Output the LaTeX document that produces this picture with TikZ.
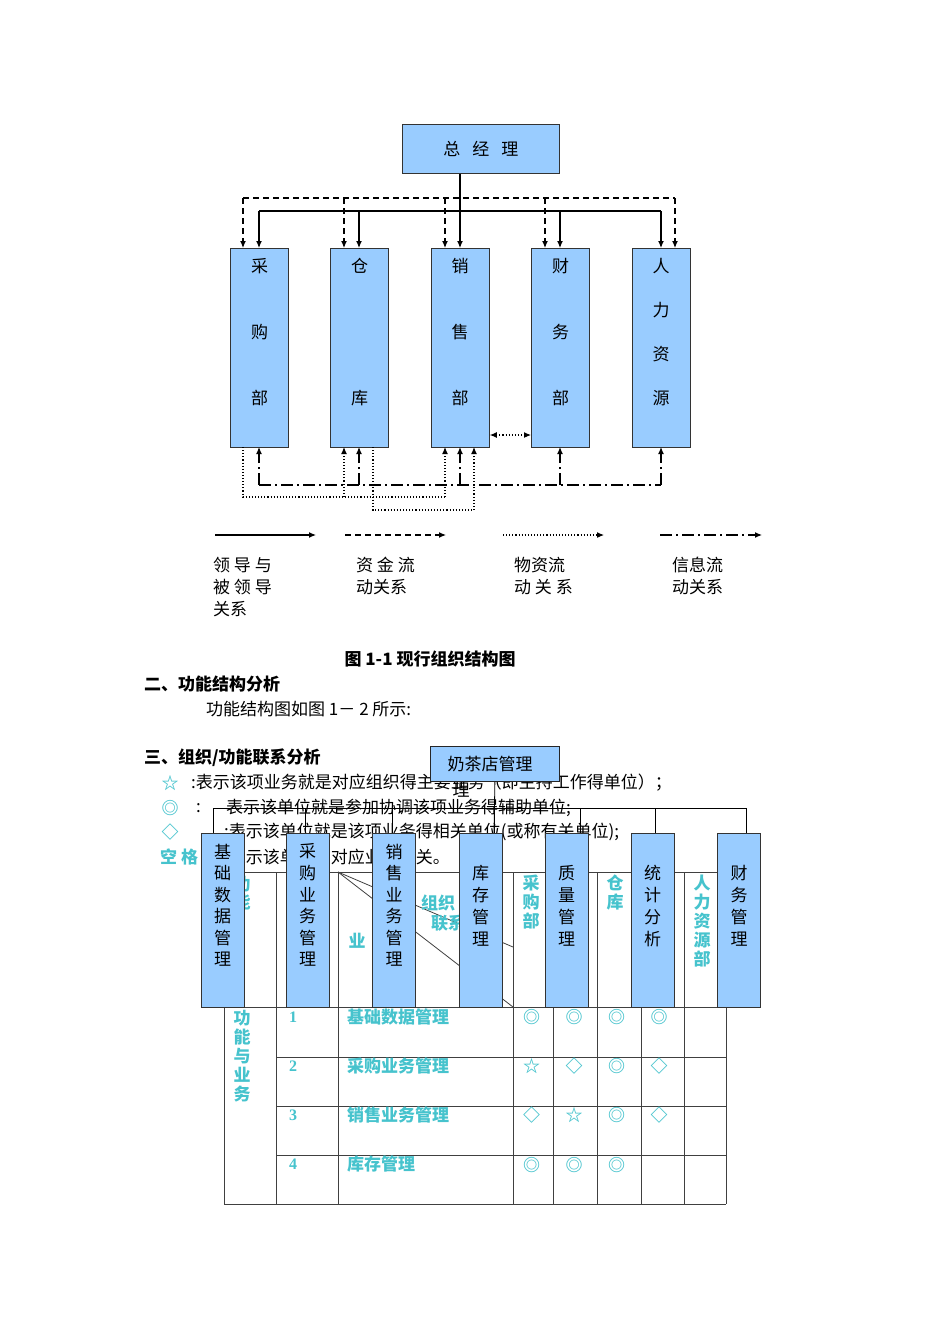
\documentclass[tikz,border=0pt]{standalone}
\usepackage{fontspec}
\setmainfont{Liberation Serif}
\newfontfamily\cjk{Noto Sans CJK SC}
\usetikzlibrary{arrows.meta}
\definecolor{boxblue}{RGB}{153,204,255}
\definecolor{cyantxt}{RGB}{70,195,205}
\tikzset{
 x=1pt,y=-1pt,
 dept/.style={draw=black!80,fill=boxblue,line width=0.8pt,inner sep=0,anchor=north west},
 ch/.style={font=\cjk\fontsize{17}{20}\selectfont,inner sep=0},
 cy/.style={ch,text=cyantxt,font=\cjk\bfseries\fontsize{17}{20}\selectfont},
 tx/.style={ch,anchor=west},
 solidar/.style={line width=1.2pt,-{Latex[length=7pt,width=6pt]}},
 dashar/.style={line width=1.2pt,dash pattern=on 6pt off 4pt,-{Latex[length=7pt,width=6pt]}},
 dotar/.style={line width=1.1pt,dotted,-{Latex[length=7pt,width=6pt]}},
 dotbi/.style={line width=1.1pt,dotted,{Latex[length=7pt,width=6pt]}-{Latex[length=7pt,width=6pt]}},
 dashdot/.style={line width=1.2pt,dash pattern=on 12pt off 4pt on 2pt off 4pt},
 dashdotar/.style={dashdot,-{Latex[length=7pt,width=6pt]}},
 tline/.style={draw=black!75,line width=0.8pt},
}
\begin{document}
\begin{tikzpicture}
\useasboundingbox[fill=white] (0,0) rectangle (950,1344);
% ---------- top chart
\node[dept,minimum width=157pt,minimum height=49pt] (gm) at (402,124) {};
\node[ch] (gmt) at (gm.center) {总\hspace{12pt}经\hspace{12pt}理};
\foreach \n/\x in {cg/230,ck/330,xs/431,cw/531,rl/632}
  \node[dept,minimum width=58pt,minimum height=199pt] (\n) at (\x,248) {};
\foreach \c[count=\i] in {采,购,部} \node[ch] (a\i) at (259.5,200+66*\i) {\c};
\foreach \c[count=\i] in {仓,库} \node[ch] (b\i) at (359.5,134+132*\i) {\c};
\foreach \c[count=\i] in {销,售,部} \node[ch] (c\i) at (460,200+66*\i) {\c};
\foreach \c[count=\i] in {财,务,部} \node[ch] (d\i) at (560.5,200+66*\i) {\c};
\foreach \c[count=\i] in {人,力,资,源} \node[ch] (e\i) at (661,222+44*\i) {\c};
% solid
\coordinate (sj) at (460,211);
\draw[line width=1.2pt] (gm.south -| sj) -- (sj);
\draw[line width=1.2pt] (259,211) -- (661,211);
\foreach \n/\x in {cg/259,ck/359,xs/460,cw/560,rl/661}
  \draw[solidar] (\x,211) -- (\x,248);
% dashed
\draw[line width=1.2pt,dash pattern=on 6pt off 4pt] (243,198) -- (675,198);
\foreach \x in {243,344,445,545,675}
  \draw[dashar] (\x,198) -- (\x,248);
% dotted bidirectional
\draw[dotbi] (xs.east|-0,435) -- (cw.west|-0,435);
% dash-dot info
\draw[dashdot] (259,485) -- (661,485);
\foreach \x in {259,359,460,560,661}
  \draw[dashdotar] (\x,485) -- (\x,447);
% dotted material
\draw[line width=1.1pt,dotted] (243,447) -- (243,497) -- (445,497);
\draw[dotar] (445,497) -- (445,447);
\draw[dotar] (344,497) -- (344,447);
\draw[line width=1.1pt,dotted] (373,447) -- (373,510) -- (474,510);
\draw[dotar] (474,510) -- (474,447);
% legend
\coordinate (l1a) at (215,535); \coordinate (l1b) at (316,535);
\coordinate (l2a) at (345,535); \coordinate (l2b) at (446,535);
\coordinate (l3a) at (503,535); \coordinate (l3b) at (604,535);
\coordinate (l4a) at (660,535); \coordinate (l4b) at (762,535);
\draw[solidar] (l1a) -- (l1b);
\draw[dashar] (l2a) -- (l2b);
\draw[dotar] (l3a) -- (l3b);
\draw[dashdotar] (l4a) -- (l4b);
\node[tx] (lg1) at (213,565) {领 导 与};
\node[tx] (lg1b) at (213,587) {被 领 导};
\node[tx] (lg1c) at (213,609) {关系};
\node[tx] (lg2) at (356,565) {资 金 流};
\node[tx] (lg2b) at (356,587) {动关系};
\node[tx] (lg3) at (514,565) {物资流};
\node[tx] (lg3b) at (514,587) {动 关 系};
\node[tx] (lg4) at (672,565) {信息流};
\node[tx] (lg4b) at (672,587) {动关系};
% captions
\node[ch] (cap) at (430,659) {\bfseries 图 \textbf{1-1} 现行组织结构图};
\node[tx] (h2) at (144,684) {\bfseries 二、功能结构分析};
\node[tx] (p2) at (206,709) {功能结构图如图 1－ 2 所示:};
\node[tx] (h3) at (144,758) {\bfseries 三、组织/功能联系分析};
\node[cy] (s1) at (170,783) {☆};
\node[tx] (t1) at (191,783) {:表示该项业务就是对应组织得主要业务（即主持工作得单位）；};
\node[cy] (s2) at (170,808) {◎};
\node[tx] (t2a) at (196,808) {:};
\node[tx] (t2) at (226,808) {表示该单位就是参加协调该项业务得辅助单位;};
\node[cy] (s3) at (170,832) {◇};
\node[tx] (t3) at (224,832) {:表示该单位就是该项业务得相关单位(或称有关单位);};
\node[cy,anchor=west] (s4) at (160,857) {空 格};
\node[tx] (t4) at (224,857) {:表示该单位与对应业务无关。};
% ---------- table
\foreach \x in {224,276,338,513,553,597,641,684,726}
  \draw[tline] (\x,872) -- (\x,1204);
\draw[tline] (224,872) -- (726,872);
\foreach \y in {1007,1057,1106,1155,1204}
  \draw[tline] (276,\y) -- (726,\y);
\draw[tline] (224,1204) -- (276,1204);
\draw[tline] (224,1007) -- (276,1007);
\draw[tline] (338,872) -- (513,947);
\draw[tline] (338,872) -- (513,1007);
\foreach \c[count=\i] in {功,能} \node[cy] (f\i) at (242,866+18*\i) {\c};
\node[cy] (hy) at (357,941) {业};
\node[cy] (hz1) at (438,903) {组织};
\node[cy] (hz2) at (448,923) {联系};
\foreach \c[count=\i] in {采,购,部} \node[cy] (p\i) at (531,864+19*\i) {\c};
\foreach \c[count=\i] in {仓,库} \node[cy] (q\i) at (615,864+19*\i) {\c};
\foreach \c[count=\i] in {人,力,资,源,部} \node[cy] (r\i) at (702,864+19*\i) {\c};
\foreach \c[count=\i] in {功,能,与,业,务} \node[cy] (g\i) at (242,999+19*\i) {\c};
\foreach \nm[count=\i] in {基础数据管理,采购业务管理,销售业务管理,库存管理}{
  \node[font=\bfseries\fontsize{16}{18}\selectfont,text=cyantxt,inner sep=0] (num\i) at (293,968+49*\i) {\i};
  \node[cy,anchor=west] (nm\i) at (347,968+49*\i) {\nm};}
\foreach \s[count=\i] in {◎,◎,◎,◎} \node[cy] (r1c\i) at (489+42.5*\i,1017) {\s};
\foreach \s[count=\i] in {☆,◇,◎,◇} \node[cy] (r2c\i) at (489+42.5*\i,1066) {\s};
\foreach \s[count=\i] in {◇,☆,◎,◇} \node[cy] (r3c\i) at (489+42.5*\i,1115) {\s};
\foreach \s[count=\i] in {◎,◎,◎} \node[cy] (r4c\i) at (489+42.5*\i,1165) {\s};
% ---------- function chart
\node[draw=black!85,fill=boxblue,line width=0.8pt,minimum width=129pt,minimum height=35pt,anchor=north west,inner sep=0] (top) at (430,746) {};
\node[ch] (topt) at (490,764) {奶茶店管理};
\node[ch] (topt2) at (461,790) {理};
\draw[line width=0.8pt] (213,808) -- (746,808);
\draw[line width=0.8pt] (top.south) -- (494,833);
\foreach \n/\x/\lx in {fa/201/213,fb/286/305,fc/372/392,fd/459/494,fe/545/580,ff/631/655,fg/717/746}{
  \node[dept,minimum width=43pt,minimum height=174pt] (\n) at (\x,833) {};
  \draw[line width=0.8pt] (\lx,808) -- (\lx,833);}
\foreach \c[count=\i] in {基,础,数,据,管,理} \node[ch] (u\i) at (222.5,830+21.6*\i) {\c};
\foreach \c[count=\i] in {采,购,业,务,管,理} \node[ch] (v\i) at (307.5,830+21.6*\i) {\c};
\foreach \c[count=\i] in {销,售,业,务,管,理} \node[ch] (w\i) at (394,830+21.6*\i) {\c};
\foreach \c[count=\i] in {库,存,管,理} \node[ch] (k\i) at (480.5,851+22*\i) {\c};
\foreach \c[count=\i] in {质,量,管,理} \node[ch] (m\i) at (566.5,851+22*\i) {\c};
\foreach \c[count=\i] in {统,计,分,析} \node[ch] (n\i) at (652.5,851+22*\i) {\c};
\foreach \c[count=\i] in {财,务,管,理} \node[ch] (o\i) at (739,851+22*\i) {\c};
\end{tikzpicture}
\end{document}
